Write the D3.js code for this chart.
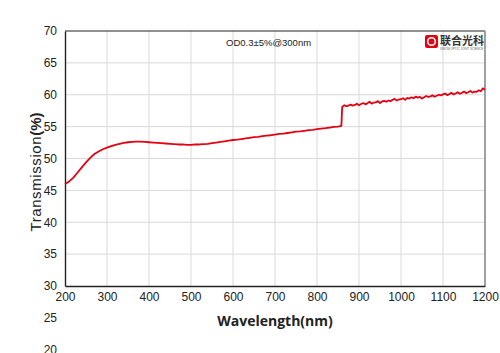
<!DOCTYPE html>
<html>
<head>
<meta charset="utf-8">
<script src="https://cdn.jsdelivr.net/npm/d3@7"></script>
<style>
  body { margin: 0; background: #fff; }
  svg { display: block; font-family: "Liberation Sans", Arial, sans-serif; }
</style>
</head>
<body>
<div id="chart"></div>
<script>
// smooth part of the scan (nm, %T)
const smoothWl = [200, 210, 220, 230, 240, 250, 260, 270, 280, 290, 300, 310, 320, 330, 340, 350, 360, 370, 380, 390,
  400, 410, 420, 430, 440, 450, 460, 470, 480, 490, 500, 510, 520, 530, 540, 550, 560, 570, 580, 590,
  600, 610, 620, 630, 640, 650, 660, 670, 680, 690, 700, 710, 720, 730, 740, 750, 760, 770, 780, 790,
  800, 810, 820, 830, 840, 850, 858];
const smoothT = [46.0, 46.4, 47.0, 47.8, 48.6, 49.4, 50.1, 50.7, 51.1, 51.45, 51.7, 51.95, 52.15, 52.3, 52.45, 52.55, 52.6, 52.65, 52.65, 52.6,
  52.55, 52.5, 52.45, 52.4, 52.35, 52.3, 52.25, 52.2, 52.2, 52.15, 52.15, 52.2, 52.2, 52.25, 52.3, 52.4, 52.5, 52.6, 52.7, 52.8,
  52.9, 52.95, 53.05, 53.15, 53.25, 53.35, 53.4, 53.5, 53.6, 53.65, 53.75, 53.85, 53.9, 54.0, 54.1, 54.2, 54.25, 54.35, 54.45, 54.5,
  54.6, 54.7, 54.75, 54.85, 54.95, 55.0, 55.1];

// noisy part after the detector change
const noisyWl = [860, 865, 870, 875, 880, 885, 890, 895, 900, 905, 910, 915, 920, 925, 930, 935, 940, 945, 950, 955,
  960, 965, 970, 975, 980, 985, 990, 995, 1000, 1005, 1010, 1015, 1020, 1025, 1030, 1035, 1040, 1045, 1050, 1055,
  1060, 1065, 1070, 1075, 1080, 1085, 1090, 1095, 1100, 1105, 1110, 1115, 1120, 1125, 1130, 1135, 1140, 1145, 1150, 1155,
  1160, 1165, 1170, 1175, 1180, 1185, 1190, 1195, 1200];
const noisyT = [58.1, 58.35, 58.2, 58.3, 58.45, 58.3, 58.4, 58.6, 58.35, 58.55, 58.7, 58.5, 58.65, 58.9, 58.6, 58.75, 58.8, 59.0, 58.7, 58.95,
  59.05, 58.9, 59.1, 59.0, 59.2, 59.35, 59.1, 59.25, 59.3, 59.45, 59.2, 59.5, 59.4, 59.6, 59.45, 59.7, 59.55, 59.65, 59.4, 59.6,
  59.8, 59.65, 59.75, 59.9, 59.7, 59.85, 60.0, 59.9, 60.05, 60.2, 59.95, 60.1, 60.3, 60.05, 60.2, 60.4, 60.15, 60.3, 60.5, 60.25,
  60.4, 60.6, 60.35, 60.5, 60.45, 60.7, 60.55, 61.0, 60.8];

const xTicks = [200, 300, 400, 500, 600, 700, 800, 900, 1000, 1100, 1200];
const yTicks = [30, 35, 40, 45, 50, 55, 60, 65, 70];
const yExtraTicks = [20, 25]; // labels that spill below the frame

const width = 500, height = 353;
const margin = { left: 65, right: 15, top: 31, bottom: 67 };

const svg = d3.select("#chart")
  .append("svg")
  .attr("width", width)
  .attr("height", height);

const x = d3.scaleLinear().domain([200, 1200]).range([margin.left, width - margin.right]);
const y = d3.scaleLinear().domain([30, 70]).range([height - margin.bottom, margin.top]);

// grid
svg.append("g")
  .selectAll("line")
  .data(xTicks.slice(1, -1))
  .join("line")
  .attr("x1", d => x(d)).attr("x2", d => x(d))
  .attr("y1", y(30)).attr("y2", y(70))
  .attr("stroke", "#d9d9d9").attr("stroke-width", 1);

svg.append("g")
  .selectAll("line")
  .data(yTicks.slice(1, -1))
  .join("line")
  .attr("x1", x(200)).attr("x2", x(1200))
  .attr("y1", d => y(d)).attr("y2", d => y(d))
  .attr("stroke", "#d9d9d9").attr("stroke-width", 1);

// frame: top black, right grey
svg.append("line")
  .attr("x1", x(200)).attr("x2", x(1200))
  .attr("y1", y(70)).attr("y2", y(70))
  .attr("stroke", "#222").attr("stroke-width", 1.2);
svg.append("line")
  .attr("x1", x(1200)).attr("x2", x(1200))
  .attr("y1", y(70)).attr("y2", y(30))
  .attr("stroke", "#888").attr("stroke-width", 1.6);

// axes
const xAxis = svg.append("g")
  .attr("transform", `translate(0,${y(30)})`)
  .call(d3.axisBottom(x).tickValues(xTicks).tickFormat(d3.format("d")).tickSize(0).tickPadding(6));
const yAxis = svg.append("g")
  .attr("transform", `translate(${x(200)},0)`)
  .call(d3.axisLeft(y).tickValues(yTicks).tickSize(0).tickPadding(8));

[xAxis, yAxis].forEach(g => {
  g.select(".domain").attr("stroke", "#222").attr("stroke-width", 1.4);
  g.selectAll("text")
    .attr("fill", "#222")
    .style("font-size", "12px")
    .style("font-family", "'Liberation Sans', Arial, sans-serif");
});

// stray tick labels below the frame
svg.append("g")
  .selectAll("text")
  .data(yExtraTicks)
  .join("text")
  .attr("x", x(200) - 8)
  .attr("y", d => y(d))
  .attr("dy", "0.32em")
  .attr("text-anchor", "end")
  .attr("fill", "#222")
  .style("font-size", "12px")
  .text(d => d);

// curve
const line = d3.line()
  .x(d => x(d[0]))
  .y(d => y(d[1]));

const pts = smoothWl.map((w, i) => [w, smoothT[i]])
  .concat(noisyWl.map((w, i) => [w, noisyT[i]]));

svg.append("path")
  .datum(pts)
  .attr("d", line)
  .attr("fill", "none")
  .attr("stroke", "#e60012")
  .attr("stroke-width", 1.8)
  .attr("stroke-linejoin", "round");

// annotation
svg.append("text")
  .attr("x", 226)
  .attr("y", 46)
  .attr("fill", "#222")
  .style("font-size", "9.5px")
  .text("OD0.3±5%@300nm");

// logo
const logo = svg.append("g").attr("transform", "translate(425,35)");
logo.append("rect")
  .attr("width", 13).attr("height", 13).attr("rx", 2)
  .attr("fill", "#e60012");
logo.append("circle")
  .attr("cx", 6.5).attr("cy", 6.5).attr("r", 3.8)
  .attr("fill", "none").attr("stroke", "#fff").attr("stroke-width", 1.6);
logo.append("text")
  .attr("x", 15).attr("y", 10)
  .attr("fill", "#333")
  .style("font-family", "'Noto Sans CJK SC', sans-serif")
  .style("font-size", "11px")
  .style("font-weight", "bold")
  .text("联合光科");
logo.append("text")
  .attr("x", 15).attr("y", 14.5)
  .attr("fill", "#666")
  .style("font-size", "3px")
  .text("UNION OPTIC  JOINT SCIENCE");

// axis titles
svg.append("text")
  .attr("x", x(700))
  .attr("y", 326)
  .attr("text-anchor", "middle")
  .attr("fill", "#222")
  .style("font-family", "'Open Sans', 'DejaVu Sans', sans-serif")
  .style("font-size", "14px")
  .style("font-weight", "bold")
  .text("Wavelength(nm)");

const yTitle = svg.append("text")
  .attr("transform", "translate(41,172) rotate(-90)")
  .attr("text-anchor", "middle")
  .attr("fill", "#222")
  .style("font-size", "15px");
yTitle.append("tspan").style("letter-spacing", "0.6px").text("Transmission");
yTitle.append("tspan").style("font-weight", "bold").text("(%)");
</script>
</body>
</html>
